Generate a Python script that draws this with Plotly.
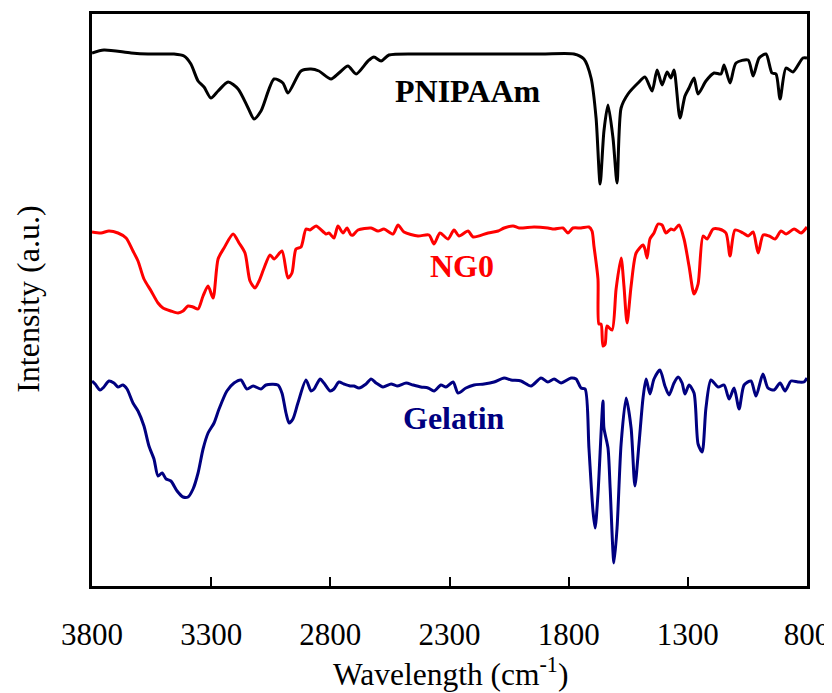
import plotly.graph_objects as go

# ---- data (wavenumber in cm^-1, intensity in arbitrary units) ----
pnipaam_wn = [3800, 3750, 3636, 3565, 3481, 3456, 3414, 3385, 3355, 3330, 3301, 3271, 3229, 3187, 3145, 3120,
              3091, 3036, 2999, 2978, 2923, 2881, 2848, 2797, 2764, 2726, 2692, 2642, 2617, 2587, 2554, 2407,
              2294, 1916, 1778, 1736, 1706, 1685, 1668, 1652, 1635, 1614, 1597, 1580, 1551, 1509, 1480, 1450,
              1429, 1408, 1387, 1371, 1358, 1333, 1312, 1295, 1274, 1257, 1224, 1190, 1161, 1148, 1123, 1098,
              1047, 1026, 1001, 972, 947, 930, 913, 888, 859, 817, 800]
pnipaam_int = [533, 536, 533, 532, 532, 532, 530, 522, 505, 499, 488, 495, 504, 497, 478, 467,
               475, 507, 503, 493, 515, 517, 515, 507, 513, 520, 512, 525, 529, 525, 531, 532,
               532, 532, 532, 527, 508, 468, 402, 455, 481, 448, 403, 478, 492, 503, 509, 495,
               516, 501, 514, 508, 516, 468, 490, 498, 508, 492, 505, 513, 512, 521, 503, 523,
               526, 510, 528, 532, 513, 512, 487, 518, 514, 528, 528]

ng0_wn = [3800, 3762, 3729, 3691, 3657, 3628, 3607, 3582, 3552, 3523, 3502, 3469, 3439, 3418, 3397, 3376,
          3355, 3334, 3313, 3292, 3271, 3246, 3208, 3183, 3158, 3137, 3116, 3099, 3078, 3053, 3036, 3003,
          2978, 2961, 2944, 2923, 2902, 2885, 2860, 2818, 2806, 2785, 2768, 2747, 2730, 2713, 2705, 2684,
          2629, 2600, 2575, 2537, 2516, 2491, 2432, 2386, 2365, 2340, 2306, 2281, 2260, 2222, 2201, 2138,
          2096, 2071, 2033, 2008, 1945, 1887, 1861, 1824, 1803, 1782, 1748, 1715, 1702, 1694, 1677, 1673,
          1664, 1656, 1647, 1639, 1618, 1601, 1580, 1568, 1555, 1538, 1517, 1488, 1480, 1471, 1459, 1442,
          1425, 1408, 1392, 1371, 1358, 1337, 1316, 1295, 1274, 1257, 1236, 1219, 1194, 1169, 1140, 1123,
          1102, 1068, 1047, 1026, 1005, 984, 959, 934, 909, 888, 854, 825, 800]
ng0_int = [354, 353, 355, 353, 348, 335, 325, 307, 295, 283, 278, 275, 273, 275, 280, 279,
           277, 290, 300, 288, 327, 338, 352, 343, 333, 305, 298, 305, 318, 331, 327, 335,
           308, 313, 337, 339, 357, 356, 360, 352, 353, 348, 360, 353, 358, 351, 351, 356,
           358, 355, 357, 352, 361, 354, 350, 351, 342, 353, 347, 356, 350, 355, 349, 353,
           355, 358, 360, 358, 359, 358, 357, 358, 353, 358, 358, 359, 355, 340, 307, 262,
           262, 240, 242, 260, 256, 297, 328, 300, 263, 300, 333, 341, 337, 328, 347, 353,
           362, 361, 353, 357, 356, 361, 347, 320, 292, 302, 350, 347, 357, 357, 353, 330,
           356, 353, 350, 354, 333, 351, 350, 347, 355, 352, 357, 353, 359]

gelatin_wn = [3800, 3787, 3766, 3750, 3729, 3708, 3691, 3670, 3653, 3628, 3607, 3582, 3561, 3540, 3523, 3506,
              3489, 3469, 3443, 3418, 3397, 3376, 3355, 3334, 3313, 3288, 3267, 3234, 3204, 3175, 3150, 3124,
              3091, 3070, 3020, 3003, 2986, 2973, 2957, 2936, 2902, 2881, 2868, 2843, 2827, 2801, 2785, 2764,
              2743, 2717, 2701, 2680, 2650, 2629, 2608, 2579, 2545, 2520, 2482, 2453, 2420, 2390, 2365, 2336,
              2315, 2285, 2264, 2231, 2197, 2155, 2113, 2071, 2042, 2000, 1958, 1916, 1887, 1861, 1832, 1790,
              1769, 1748, 1731, 1715, 1698, 1689, 1677, 1656, 1652, 1635, 1626, 1610, 1597, 1580, 1559, 1538,
              1522, 1505, 1488, 1475, 1459, 1442, 1417, 1396, 1379, 1358, 1341, 1324, 1312, 1295, 1274, 1257,
              1240, 1224, 1203, 1173, 1148, 1127, 1106, 1085, 1064, 1035, 1014, 985, 964, 938, 913, 892,
              867, 838, 813, 800]
gelatin_int = [205, 202, 196, 199, 205, 203, 199, 201, 197, 183, 175, 160, 140, 127, 110, 113,
               107, 105, 95, 89, 89, 97, 113, 137, 153, 163, 177, 195, 203, 206, 197, 200,
               197, 201, 201, 193, 173, 163, 167, 183, 206, 195, 197, 207, 203, 195, 197, 204,
               202, 200, 200, 198, 202, 207, 203, 199, 202, 200, 203, 201, 199, 198, 195, 201,
               199, 204, 193, 198, 201, 202, 204, 208, 206, 205, 200, 208, 204, 207, 203, 208,
               207, 198, 197, 138, 75, 58, 92, 185, 158, 138, 98, 23, 58, 142, 188, 158,
               100, 142, 188, 207, 192, 207, 216, 200, 191, 203, 209, 203, 192, 201, 193, 142,
               134, 178, 206, 199, 201, 187, 198, 177, 201, 205, 190, 212, 198, 196, 203, 195,
               205, 204, 204, 208]

series_names = ["PNIPAAm", "NG0", "Gelatin"]
series_colors = ["#000000", "#ff0000", "#000080"]
label_wn = [2222, 2248, 2281]
label_int = [495, 320, 168]

x_ticks = [3800, 3300, 2800, 2300, 1800, 1300, 800]

FONT = "Liberation Serif"

fig = go.Figure()
for name, wn, inten, col in zip(series_names,
                                [pnipaam_wn, ng0_wn, gelatin_wn],
                                [pnipaam_int, ng0_int, gelatin_int],
                                series_colors):
    fig.add_trace(go.Scatter(x=wn, y=inten, mode="lines", name=name,
                             line=dict(color=col, width=3, shape="spline", smoothing=0.7),
                             showlegend=False))

for name, lx, ly, col in zip(series_names, label_wn, label_int, series_colors):
    fig.add_annotation(x=lx, y=ly, xref="x", yref="y", text=f"<b>{name}</b>",
                       xanchor="center", yanchor="middle",
                       showarrow=False, font=dict(family=FONT, size=32, color=col))

fig.add_annotation(x=0.502, y=-0.151, xref="paper", yref="paper",
                   xanchor="center", yanchor="middle",
                   text="Wavelength (cm<sup>-1</sup>)", showarrow=False,
                   font=dict(family=FONT, size=31.5, color="black"))
fig.add_annotation(x=-0.0895, y=0.502, xref="paper", yref="paper",
                   xanchor="center", yanchor="middle",
                   text="Intensity (a.u.)", textangle=-90, showarrow=False,
                   font=dict(family=FONT, size=32, color="black"))

# page has an 8px body margin, so the figure is sized/offset to compensate
fig.update_layout(
    width=824, height=685, autosize=False,
    margin=dict(l=84, r=25, t=6, b=107),
    paper_bgcolor="white", plot_bgcolor="white",
    font=dict(family=FONT, size=31, color="black"),
    xaxis=dict(range=[3800, 800], tickvals=x_ticks, ticktext=[str(v) for v in x_ticks],
               ticks="inside", ticklen=9, tickwidth=1.5, tickcolor="black",
               showline=True, linecolor="black", linewidth=2.5, mirror=True,
               showgrid=False, zeroline=False, ticklabelstandoff=19, automargin=False,
               tickfont=dict(family=FONT, size=31, color="black")),
    yaxis=dict(range=[0, 572], showticklabels=False, ticks="", automargin=False,
               showline=True, linecolor="black", linewidth=2.5, mirror=True,
               showgrid=False, zeroline=False),
)

fig.write_html("out.html")
